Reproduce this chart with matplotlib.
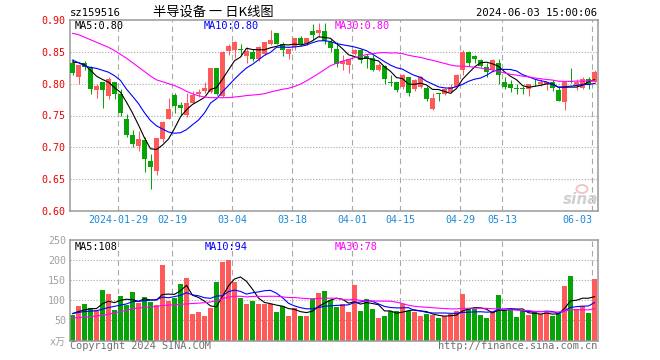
import matplotlib
matplotlib.use('Agg')
import matplotlib.pyplot as plt
from matplotlib.patches import Ellipse
import numpy as np
import pandas as pd

# ---------------- data ----------------
closed_days = ['2024-02-09', '2024-02-12', '2024-02-13', '2024-02-14', '2024-02-15',
               '2024-02-16', '2024-04-04', '2024-04-05', '2024-05-01', '2024-05-02', '2024-05-03']
dates = [d.strftime('%Y-%m-%d') for d in pd.bdate_range('2024-01-17', '2024-06-03')
         if d.strftime('%Y-%m-%d') not in closed_days]

open_ = [0.833, 0.810, 0.832, 0.826, 0.790, 0.802, 0.781, 0.802, 0.783, 0.744,
         0.720, 0.702, 0.712, 0.678, 0.663, 0.713, 0.745, 0.782, 0.767, 0.750,
         0.770, 0.784, 0.789, 0.787, 0.824, 0.780, 0.852, 0.853, 0.855, 0.844,
         0.850, 0.839, 0.846, 0.862, 0.879, 0.863, 0.846, 0.858, 0.872, 0.863,
         0.883, 0.879, 0.882, 0.865, 0.855, 0.831, 0.830, 0.846, 0.853, 0.843,
         0.841, 0.821, 0.828, 0.802, 0.802, 0.794, 0.810, 0.791, 0.795, 0.793,
         0.760, 0.785, 0.784, 0.787, 0.795, 0.821, 0.850, 0.843, 0.837, 0.826,
         0.821, 0.833, 0.802, 0.800, 0.793, 0.792, 0.791, 0.803, 0.800, 0.800,
         0.802, 0.790, 0.771, 0.804, 0.797, 0.793, 0.807, 0.802]
high = [0.838, 0.830, 0.835, 0.827, 0.800, 0.803, 0.810, 0.803, 0.791, 0.752,
        0.727, 0.725, 0.717, 0.690, 0.715, 0.742, 0.777, 0.786, 0.771, 0.786,
        0.789, 0.792, 0.803, 0.825, 0.825, 0.851, 0.862, 0.867, 0.862, 0.857,
        0.854, 0.859, 0.866, 0.884, 0.880, 0.866, 0.854, 0.872, 0.875, 0.872,
        0.894, 0.896, 0.896, 0.870, 0.865, 0.845, 0.839, 0.854, 0.854, 0.846,
        0.845, 0.832, 0.830, 0.814, 0.803, 0.815, 0.811, 0.808, 0.812, 0.797,
        0.785, 0.786, 0.793, 0.800, 0.815, 0.853, 0.852, 0.845, 0.839, 0.833,
        0.839, 0.839, 0.811, 0.806, 0.800, 0.797, 0.800, 0.807, 0.807, 0.803,
        0.805, 0.794, 0.802, 0.825, 0.808, 0.810, 0.811, 0.821]
low = [0.813, 0.800, 0.822, 0.784, 0.778, 0.761, 0.776, 0.776, 0.749, 0.717,
       0.700, 0.695, 0.662, 0.635, 0.657, 0.709, 0.745, 0.754, 0.751, 0.748,
       0.769, 0.779, 0.785, 0.785, 0.782, 0.779, 0.845, 0.840, 0.843, 0.832,
       0.835, 0.836, 0.845, 0.860, 0.862, 0.844, 0.839, 0.853, 0.859, 0.860,
       0.868, 0.873, 0.863, 0.850, 0.826, 0.822, 0.816, 0.845, 0.833, 0.825,
       0.820, 0.820, 0.800, 0.797, 0.787, 0.792, 0.781, 0.789, 0.793, 0.772,
       0.758, 0.773, 0.782, 0.785, 0.795, 0.814, 0.828, 0.832, 0.826, 0.811,
       0.819, 0.800, 0.792, 0.787, 0.784, 0.784, 0.780, 0.797, 0.797, 0.790,
       0.789, 0.772, 0.759, 0.801, 0.790, 0.792, 0.792, 0.800]
close = [0.816, 0.829, 0.826, 0.791, 0.797, 0.790, 0.808, 0.783, 0.754, 0.720,
         0.705, 0.713, 0.682, 0.669, 0.714, 0.740, 0.760, 0.765, 0.761, 0.769,
         0.782, 0.787, 0.793, 0.824, 0.783, 0.849, 0.859, 0.865, 0.853, 0.852,
         0.839, 0.857, 0.865, 0.869, 0.863, 0.853, 0.854, 0.872, 0.863, 0.871,
         0.877, 0.885, 0.867, 0.856, 0.831, 0.835, 0.838, 0.853, 0.837, 0.839,
         0.821, 0.829, 0.807, 0.801, 0.790, 0.813, 0.785, 0.806, 0.810, 0.776,
         0.778, 0.784, 0.791, 0.795, 0.814, 0.850, 0.833, 0.839, 0.828, 0.819,
         0.837, 0.814, 0.795, 0.793, 0.792, 0.7915, 0.800, 0.802, 0.802, 0.802,
         0.793, 0.773, 0.802, 0.803, 0.802, 0.808, 0.800, 0.818]
volume = [64, 85, 92, 81, 75, 125, 115, 75, 110, 88,
          120, 93, 108, 95, 88, 188, 98, 105, 140, 155,
          65, 70, 60, 80, 145, 195, 200, 145, 105, 90,
          98, 90, 90, 90, 72, 85, 60, 80, 62, 60,
          103, 118, 122, 100, 83, 90, 70, 137, 73, 102,
          78, 55, 60, 73, 73, 92, 73, 70, 60, 65,
          63, 55, 60, 65, 73, 115, 78, 78, 63, 55,
          70, 112, 75, 75, 58, 73, 63, 70, 65, 70,
          60, 68, 135, 160, 78, 85, 68, 154]

# moving-average values at the start of the window
ma5_head = [0.834, 0.833, 0.830, 0.821]
ma10_head = [0.837, 0.833, 0.828, 0.8255, 0.824, 0.821, 0.818, 0.8125, 0.805]
ma30_head = [0.879, 0.877, 0.873, 0.869, 0.865, 0.861, 0.857, 0.852, 0.846, 0.840,
             0.833, 0.826, 0.819, 0.812, 0.806, 0.803, 0.800, 0.797, 0.793, 0.788,
             0.784, 0.781, 0.779, 0.778, 0.778, 0.778, 0.778, 0.779, 0.780]
vma5_head = [67, 72, 76, 79]
vma10_head = [67, 70, 72, 73, 74, 78, 82, 85, 88]
vma30_head = [56, 57, 58, 59, 61, 63, 65, 69, 72, 75,
              79, 81, 82, 83, 85, 87, 88, 89, 90, 91,
              92, 93, 94, 96, 99, 104, 108, 110, 110]

ma_labels = ['0.80', '0.80', '0.80']
vma_labels = ['108', '94', '78']
tick_dates = ['2024-01-29', '2024-02-19', '2024-03-04', '2024-03-18', '2024-04-01',
              '2024-04-15', '2024-04-29', '2024-05-13', '2024-06-03']
price_ticks = [0.60, 0.65, 0.70, 0.75, 0.80, 0.85, 0.90]
vol_ticks = [50, 100, 150, 200, 250]

# ---------------- computations ----------------
def ma(vals, n, head):
    s = pd.Series(vals, dtype=float).rolling(n).mean().to_numpy()
    s[:len(head)] = head
    return s

ma5 = ma(close, 5, ma5_head)
ma10 = ma(close, 10, ma10_head)
ma30 = ma(close, 30, ma30_head)
vma5 = ma(volume, 5, vma5_head)
vma10 = ma(volume, 10, vma10_head)
vma30 = ma(volume, 30, vma30_head)

o = np.array(open_); h = np.array(high); l = np.array(low); c = np.array(close)
v = np.array(volume, dtype=float)
x = np.arange(len(dates))
RED = '#ff5a5a'
GREEN = '#06a406'
cols = np.where(c >= o, RED, GREEN)

W, H = 660, 360
plt.rcParams['font.family'] = ['DejaVu Sans Mono']
fig = plt.figure(figsize=(W / 100, H / 100), dpi=100)
fig.patch.set_facecolor('white')

def px_ax(l_, t_, r_, b_):
    return fig.add_axes([l_ / W, 1 - b_ / H, (r_ - l_) / W, (b_ - t_) / H])

ax = px_ax(70, 20, 598, 211)
axv = px_ax(70, 240, 598, 340.5)
xmin, xmax = -2.5 / 6, 87 + 3.5 / 6

tick_idx = [dates.index(d) for d in tick_dates]
GRID = '#a8a8a8'
for a in (ax, axv):
    a.set_xlim(xmin, xmax)
    for s in a.spines.values():
        s.set_color('#999999')
        s.set_linewidth(1.1)
    for ti in tick_idx:
        a.axvline(ti - 0.37, color=GRID, lw=0.8, ls=(0, (5, 3.5)), zorder=0)
    a.tick_params(length=0)

# price panel
ax.set_ylim(0.60, 0.90)
for yv in price_ticks[1:-1]:
    ax.axhline(yv, color=GRID, lw=0.8, ls=(0, (1, 1.6)), zorder=0)
ax.set_yticks(price_ticks)
ax.set_yticklabels(['%.2f' % t for t in price_ticks], color='#ee0000', fontsize=7.2)
ax.tick_params(axis='y', pad=3)
ax.set_xticks([ti - 0.37 for ti in tick_idx])
xl = [tick_dates[0]] + [d[5:] for d in tick_dates[1:]]
ax.set_xticklabels(xl, color='#1a8ad8', fontsize=7.2)
ax.tick_params(axis='x', pad=3)
ax.get_xticklabels()[-1].set_horizontalalignment('right')

ax.vlines(x, l, h, colors=cols, lw=0.75, zorder=2)
body_b = np.minimum(o, c)
body_h = np.maximum(np.abs(c - o), 0.0012)
ax.bar(x, body_h, bottom=body_b, width=0.83, color=cols, linewidth=0, zorder=3)
ax.plot(x, ma5, color='black', lw=0.8, zorder=4)
ax.plot(x, ma10, color='#0000ff', lw=0.8, zorder=4)
ax.plot(x, ma30, color='#ff00ff', lw=0.8, zorder=4)

# volume panel
axv.set_ylim(0, 250)
for yv in vol_ticks[:-1]:
    axv.axhline(yv, color=GRID, lw=0.8, ls=(0, (1, 1.6)), zorder=0)
axv.set_yticks([0] + vol_ticks)
axv.set_yticklabels(['x万'] + [str(t) for t in vol_ticks], color='#a0a0a0', fontsize=7.2,
                    family=['DejaVu Sans Mono', 'Noto Sans CJK SC'])
axv.tick_params(axis='y', pad=3)
axv.set_xticks([])
axv.bar(x, v, width=0.83, color=cols, linewidth=0, zorder=2)
axv.plot(x, vma5, color='black', lw=0.8, zorder=4)
axv.plot(x, vma10, color='#0000ff', lw=0.8, zorder=4)
axv.plot(x, vma30, color='#ff00ff', lw=0.8, zorder=4)

# texts
def ftext(px, py, s, **kw):
    fig.text(px / W, 1 - py / H, s, **kw)

ftext(70, 13, 'sz159516', fontsize=7.6, va='center', ha='left', color='black')
ftext(213, 12.5, '半导设备 一 日K线图', fontsize=9.5, va='center', ha='center', color='black',
      family=['Noto Sans CJK SC', 'DejaVu Sans'])
ftext(597, 12.5, '2024-06-03 15:00:06', fontsize=7.6, va='center', ha='right', color='black')

ftext(75, 26, 'MA5:' + ma_labels[0], fontsize=7.4, va='center', color='black')
ftext(204, 26, 'MA10:' + ma_labels[1], fontsize=7.4, va='center', color='#0000ff')
ftext(335, 26, 'MA30:' + ma_labels[2], fontsize=7.4, va='center', color='#ff00ff')
ftext(75, 246.5, 'MA5:' + vma_labels[0], fontsize=7.4, va='center', color='black')
ftext(205, 246.5, 'MA10:' + vma_labels[1], fontsize=7.4, va='center', color='#0000ff')
ftext(335, 246.5, 'MA30:' + vma_labels[2], fontsize=7.4, va='center', color='#ff00ff')

ftext(70, 346, 'Copyright 2024 SINA.COM', fontsize=7.4, va='center', ha='left', color='#707070')
ftext(597, 346, 'http://finance.sina.com.cn', fontsize=7.4, va='center', ha='right', color='#707070')

# faint sina watermark
ftext(598, 200, 'sina', fontsize=11, va='center', ha='right', color='#d0d0d0',
      fontweight='bold', style='italic', family='DejaVu Sans')
fig.add_artist(Ellipse((582 / W, 1 - 189 / H), 11 / W, 8 / H, transform=fig.transFigure,
                       facecolor='none', edgecolor='#f4c4c4', lw=1.4))

fig.savefig('out.png', dpi=100, facecolor='white')
